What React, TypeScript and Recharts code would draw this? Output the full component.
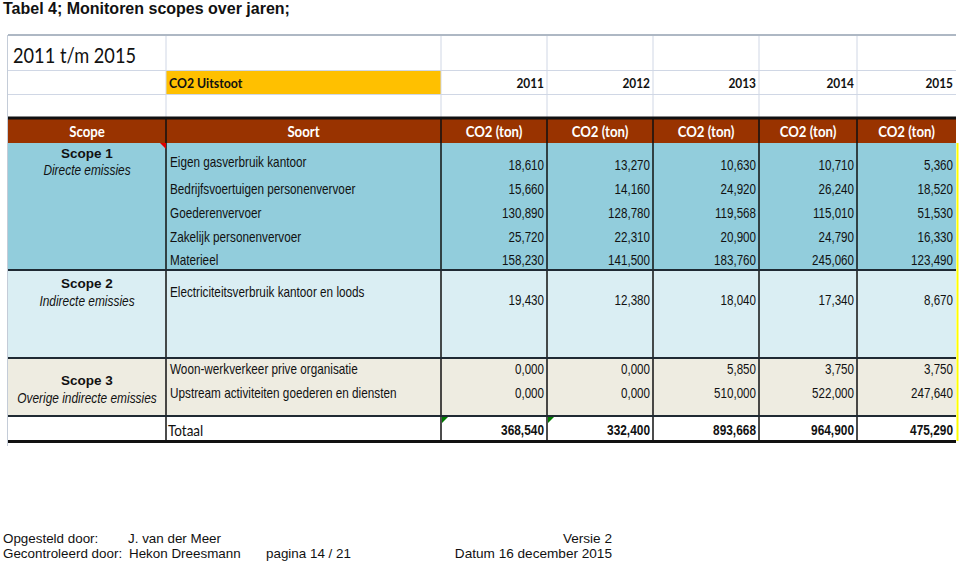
import React from 'react';
import { ScatterChart, Scatter, XAxis, YAxis, ReferenceArea, ReferenceLine } from 'recharts';

// table content
const years = ['2011', '2012', '2013', '2014', '2015'];
const scopes = ['Scope 1', 'Scope 2', 'Scope 3'];
const scopeNotes = ['Directe emissies', 'Indirecte emissies', 'Overige indirecte emissies'];
const sources = [
  'Eigen gasverbruik kantoor',
  'Bedrijfsvoertuigen personenvervoer',
  'Goederenvervoer',
  'Zakelijk personenvervoer',
  'Materieel',
  'Electriciteitsverbruik kantoor en loods',
  'Woon-werkverkeer prive organisatie',
  'Upstream activiteiten goederen en diensten',
];
const gasverbruik = [18.61, 13.27, 10.63, 10.71, 5.36];
const bedrijfsvoertuigen = [15.66, 14.16, 24.92, 26.24, 18.52];
const goederenvervoer = [130.89, 128.78, 119.568, 115.01, 51.53];
const zakelijkVervoer = [25.72, 22.31, 20.9, 24.79, 16.33];
const materieel = [158.23, 141.5, 183.76, 245.06, 123.49];
const electriciteit = [19.43, 12.38, 18.04, 17.34, 8.67];
const woonWerk = [0, 0, 5.85, 3.75, 3.75];
const upstream = [0, 0, 510, 522, 247.64];
const totaal = [368.54, 332.4, 893.668, 964.9, 475.29];
const sourceValues = [gasverbruik, bedrijfsvoertuigen, goederenvervoer, zakelijkVervoer, materieel, electriciteit, woonWerk, upstream];

// sheet layout (px in the 960x562 frame)
const colEdges = [8, 166, 441, 547, 653, 759, 857, 956];
const sourceY = [162, 189, 213, 237, 260, 292, 369, 393];
const valueY = [165, 189, 213, 237, 260, 300, 369, 393];
const scopeY = [153, 283, 380];
const noteY = [170, 301, 398];
const bands = [
  { y1: 119, y2: 143, fill: '#993300' },
  { y1: 143, y2: 270, fill: '#92CDDC' },
  { y1: 270, y2: 358, fill: '#DAEEF3' },
  { y1: 358, y2: 416, fill: '#EEECE1' },
];

const arial = 'Liberation Sans, Arial, sans-serif';
const calibri = 'Lato, sans-serif';
const styles: Record<string, any> = {
  title: { font: arial, size: 16, weight: 700, anchor: 'start', base: 'auto' },
  big: { font: calibri, size: 22, anchor: 'start', len: 123 },
  co2: { font: calibri, size: 14, weight: 700, anchor: 'start', sx: 0.88 },
  year: { font: calibri, size: 14, weight: 700, anchor: 'end', sx: 0.85 },
  head: { font: calibri, size: 15, weight: 700, anchor: 'middle', fill: '#fff', sx: 0.88 },
  scope: { font: arial, size: 13.5, weight: 700, anchor: 'middle' },
  note: { font: arial, size: 14, style: 'italic', anchor: 'middle', sx: 0.85 },
  src: { font: arial, size: 14, anchor: 'start', sx: 0.84 },
  val: { font: arial, size: 14.5, anchor: 'end', sx: 0.8 },
  totLabel: { font: calibri, size: 15, anchor: 'start', sx: 0.9 },
  tot: { font: arial, size: 14.5, weight: 700, anchor: 'end', sx: 0.82 },
  foot: { font: arial, size: 13.4, anchor: 'start', base: 'auto' },
  footEnd: { font: arial, size: 13.6, anchor: 'end', base: 'auto' },
};

const fmt = (v: number) => v.toFixed(3).replace('.', ',');
const colMid = (i: number) => (colEdges[i] + colEdges[i + 1]) / 2;
const valX = (k: number) => colEdges[k + 3] - 3;

const cells: any[] = [
  { x: 3, y: 14, text: 'Tabel 4; Monitoren scopes over jaren;', kind: 'title' },
  { x: 13, y: 54, text: '2011 t/m 2015', kind: 'big' },
  { x: 169, y: 83, text: 'CO2 Uitstoot', kind: 'co2' },
  { x: colMid(0), y: 131, text: 'Scope', kind: 'head' },
  { x: colMid(1), y: 131, text: 'Soort', kind: 'head' },
  { x: 168, y: 430, text: 'Totaal', kind: 'totLabel' },
  { x: 3, y: 543, text: 'Opgesteld door:', kind: 'foot' },
  { x: 128, y: 543, text: 'J. van der Meer', kind: 'foot' },
  { x: 612, y: 543, text: 'Versie 2', kind: 'footEnd' },
  { x: 3, y: 558, text: 'Gecontroleerd door:', kind: 'foot' },
  { x: 129, y: 558, text: 'Hekon Dreesmann', kind: 'foot' },
  { x: 266, y: 558, text: 'pagina 14 / 21', kind: 'foot' },
  { x: 612, y: 558, text: 'Datum 16 december 2015', kind: 'footEnd' },
];
years.forEach((yr, k) => {
  cells.push({ x: valX(k), y: 83, text: yr, kind: 'year' });
  cells.push({ x: colMid(k + 2), y: 131, text: 'CO2 (ton)', kind: 'head' });
  cells.push({ x: valX(k), y: 430, text: fmt(totaal[k]), kind: 'tot' });
});
scopes.forEach((s, i) => {
  cells.push({ x: colMid(0), y: scopeY[i], text: s, kind: 'scope' });
  cells.push({ x: colMid(0), y: noteY[i], text: scopeNotes[i], kind: 'note' });
});
sources.forEach((s, r) => {
  cells.push({ x: 170, y: sourceY[r], text: s, kind: 'src' });
  sourceValues[r].forEach((v, k) => cells.push({ x: valX(k), y: valueY[r], text: fmt(v), kind: 'val' }));
});

const markers = [
  { x: 166, y: 143, kind: 'red' },
  { x: 441, y: 416, kind: 'green' },
  { x: 547, y: 416, kind: 'green' },
];

const TextMark = (props: any) => {
  const { cx, cy, payload } = props;
  const s = styles[payload.kind];
  return (
    <text
      x={0}
      y={0}
      transform={`translate(${cx} ${cy}) scale(${s.sx || 1} 1)`}
      textAnchor={s.anchor}
      dominantBaseline={s.base || 'central'}
      fontFamily={s.font}
      fontSize={s.size}
      fontWeight={s.weight || 400}
      fontStyle={s.style || 'normal'}
      fill={s.fill || '#111'}
      textLength={s.len}
      lengthAdjust={s.len ? 'spacingAndGlyphs' : undefined}
    >
      {payload.text}
    </text>
  );
};

const CornerMark = (props: any) => {
  const { cx, cy, payload } = props;
  const pts =
    payload.kind === 'red'
      ? `${cx - 6},${cy} ${cx},${cy} ${cx},${cy + 6}`
      : `${cx + 1},${cy + 1} ${cx + 7},${cy + 1} ${cx + 1},${cy + 7}`;
  return <polygon points={pts} fill={payload.kind === 'red' ? '#E00000' : '#007A00'} />;
};

const light = '#D0D7E5';
const dark = '#111';

export default function App() {
  const right = colEdges[colEdges.length - 1];
  return (
    <div style={{ position: 'absolute', left: 0, top: 0, width: 960, height: 562, background: '#fff' }}>
      <ScatterChart width={960} height={562} margin={{ top: 0, right: 0, bottom: 0, left: 0 }}>
        <XAxis type="number" dataKey="x" domain={[0, 960]} allowDataOverflow hide />
        <YAxis type="number" dataKey="y" domain={[0, 562]} allowDataOverflow reversed hide />
        <ReferenceArea x1={166} x2={441} y1={70} y2={94} fill="#FFC000" fillOpacity={1} stroke="none" />
        {bands.map((b, i) => (
          <ReferenceArea key={`b${i}`} x1={colEdges[0]} x2={right} y1={b.y1} y2={b.y2} fill={b.fill} fillOpacity={1} stroke="none" />
        ))}
        {/* light sheet grid in the top rows */}
        {[70.5, 94.5].map((y) => (
          <ReferenceLine key={`h${y}`} segment={[{ x: colEdges[0], y }, { x: right, y }]} stroke={light} strokeWidth={1} />
        ))}
        {colEdges.slice(1, -1).map((x) => (
          <ReferenceLine key={`v${x}`} segment={[{ x, y: 35 }, { x, y: 117 }]} stroke={light} strokeWidth={1} />
        ))}
        <ReferenceLine segment={[{ x: colEdges[0], y: 35 }, { x: right, y: 35 }]} stroke="#AEB8C4" strokeWidth={2} />
        <ReferenceLine segment={[{ x: 7.5, y: 35 }, { x: 7.5, y: 446 }]} stroke="#C4CCD8" strokeWidth={1} />
        {/* table borders */}
        {colEdges.slice(1, -1).map((x) => (
          <ReferenceLine key={`d${x}`} segment={[{ x, y: 118 }, { x, y: 442 }]} stroke={dark} strokeWidth={1.5} />
        ))}
        {[270, 358, 416].map((y) => (
          <ReferenceLine key={`r${y}`} segment={[{ x: colEdges[0], y }, { x: right, y }]} stroke="#1F2A33" strokeWidth={2} />
        ))}
        <ReferenceLine segment={[{ x: colEdges[0], y: 118 }, { x: right, y: 118 }]} stroke={dark} strokeWidth={3} />
        <ReferenceLine segment={[{ x: colEdges[0], y: 441.5 }, { x: right, y: 441.5 }]} stroke={dark} strokeWidth={3} />
        <ReferenceLine segment={[{ x: 957.5, y: 143 }, { x: 957.5, y: 441 }]} stroke="#FFFF00" strokeWidth={2} />
        <Scatter data={markers} shape={CornerMark} isAnimationActive={false} />
        <Scatter data={cells} shape={TextMark} isAnimationActive={false} />
      </ScatterChart>
    </div>
  );
}
